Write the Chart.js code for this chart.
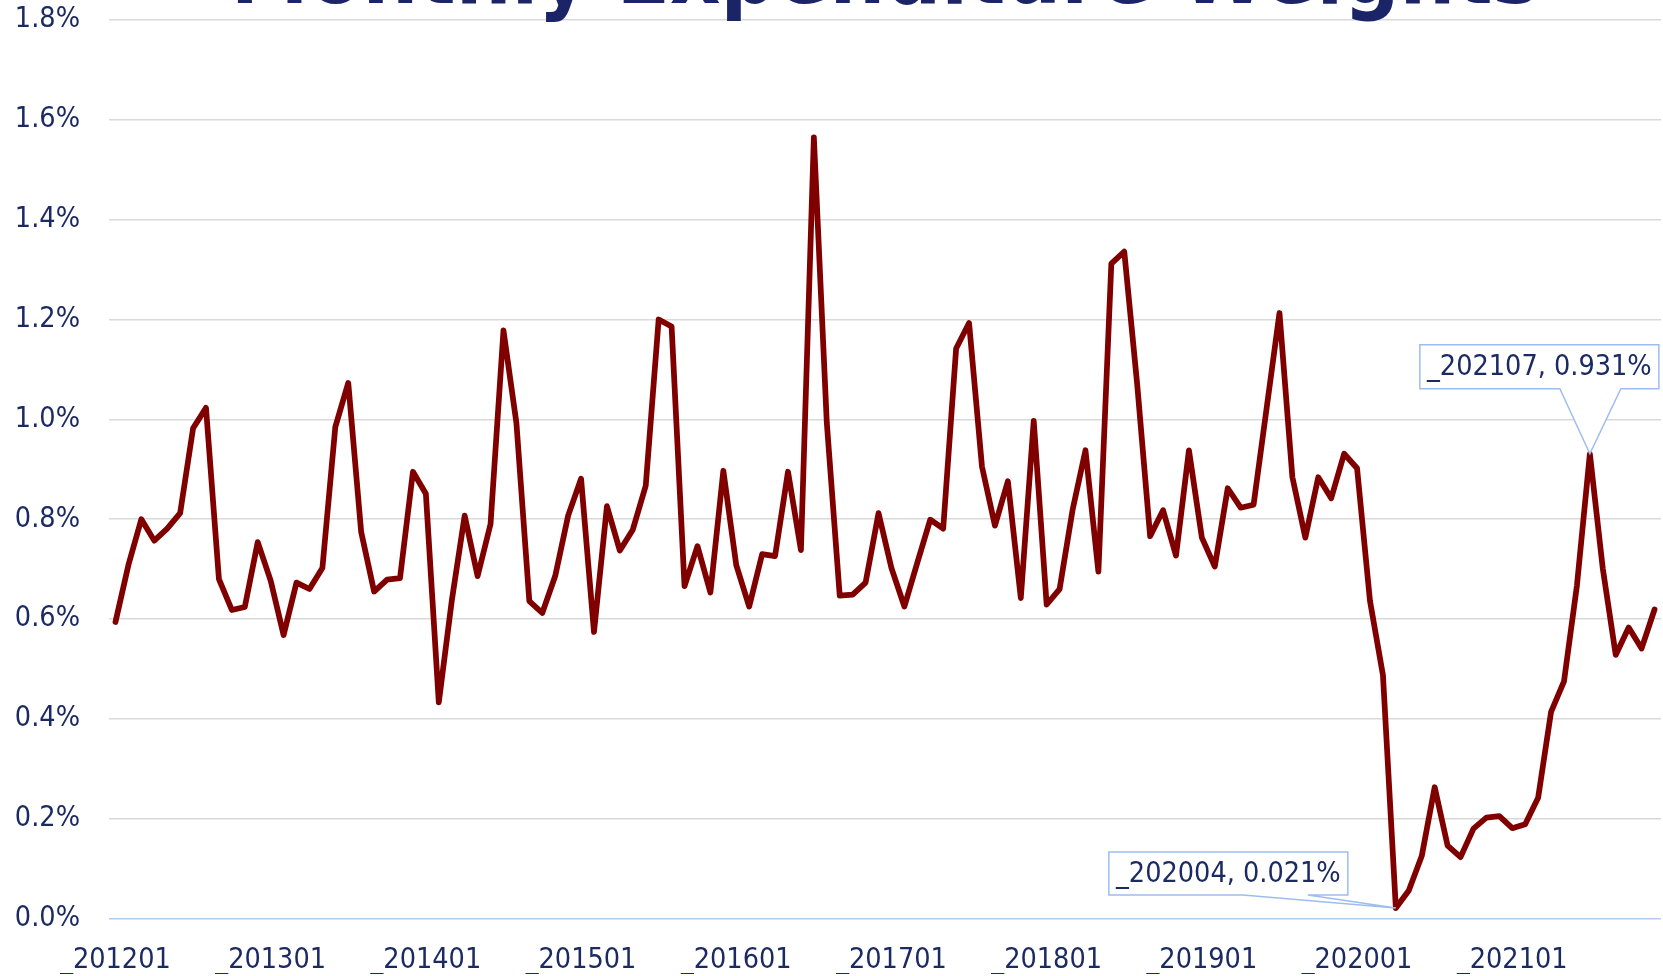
<!DOCTYPE html>
<html>
<head>
<meta charset="utf-8">
<script src="https://cdn.jsdelivr.net/npm/chart.js@4/dist/chart.umd.min.js"></script>
<style>
  html, body { margin: 0; padding: 0; background: #ffffff; }
  #wrap { position: relative; width: 1663px; height: 976px; overflow: hidden; background: #ffffff; }
  #c { position: absolute; left: 0; top: -100px; }
</style>
</head>
<body>
<div id="wrap"><canvas id="c" width="1663" height="1076"></canvas></div>
<script>
// ---- data ----
const years = [2012, 2013, 2014, 2015, 2016, 2017, 2018, 2019, 2020, 2021];
const months = ['01','02','03','04','05','06','07','08','09','10','11','12'];
const categories = [];
years.forEach(y => months.forEach(m => categories.push('_' + y + m)));

const w2012 = [0.594, 0.708, 0.800, 0.757, 0.781, 0.812, 0.982, 1.023, 0.680, 0.618, 0.624, 0.754];
const w2013 = [0.677, 0.568, 0.673, 0.660, 0.702, 0.985, 1.073, 0.774, 0.655, 0.679, 0.682, 0.895];
const w2014 = [0.851, 0.433, 0.636, 0.807, 0.686, 0.790, 1.178, 0.993, 0.636, 0.612, 0.686, 0.807];
const w2015 = [0.881, 0.574, 0.826, 0.737, 0.779, 0.867, 1.200, 1.186, 0.666, 0.746, 0.653, 0.897];
const w2016 = [0.708, 0.625, 0.730, 0.726, 0.895, 0.738, 1.565, 0.993, 0.647, 0.649, 0.673, 0.812];
const w2017 = [0.702, 0.625, 0.713, 0.799, 0.781, 1.142, 1.193, 0.905, 0.787, 0.876, 0.642, 0.997];
const w2018 = [0.629, 0.660, 0.818, 0.938, 0.695, 1.312, 1.336, 1.070, 0.766, 0.818, 0.727, 0.938];
const w2019 = [0.763, 0.705, 0.862, 0.823, 0.829, 1.021, 1.213, 0.884, 0.763, 0.884, 0.842, 0.931];
const w2020 = [0.902, 0.636, 0.488, 0.021, 0.056, 0.125, 0.263, 0.146, 0.123, 0.180, 0.202, 0.205];
const w2021 = [0.181, 0.189, 0.242, 0.414, 0.475, 0.667, 0.931, 0.701, 0.528, 0.583, 0.541, 0.619];
const weights = [].concat(w2012, w2013, w2014, w2015, w2016, w2017, w2018, w2019, w2020, w2021);

const yTicks = [0.0, 0.2, 0.4, 0.6, 0.8, 1.0, 1.2, 1.4, 1.6, 1.8];
const calloutLabels = ['_202004', '_202107'];
const titleText = 'Monthly Expenditure Weights';

// ---- style ----
const NAVY = '#1b2a63';
const FONT = '"DejaVu Sans Condensed", "Liberation Sans", Arial, sans-serif';
const TICK_SIZE = 28.5;

// callout boxes: offsets relative to the data point (style only)
const calloutStyle = {
  '_202004': { left: -287, right: -48, top: -56, bottom: -13, w1: -153, w2: -88 },
  '_202107': { left: -170, right: 69, top: -109, bottom: -65, w1: -30, w2: 31 }
};

const calloutPlugin = {
  id: 'callouts',
  afterDatasetsDraw(chart) {
    const ctx = chart.ctx;
    const xs = chart.scales.x, ys = chart.scales.y;
    calloutLabels.forEach(lab => {
      const i = categories.indexOf(lab);
      const v = weights[i];
      const px = xs.getPixelForValue(i);
      const py = ys.getPixelForValue(v);
      const s = calloutStyle[lab];
      const L = px + s.left, R = px + s.right, T = py + s.top, B = py + s.bottom;
      ctx.save();
      ctx.beginPath();
      ctx.moveTo(L, T);
      ctx.lineTo(R, T);
      ctx.lineTo(R, B);
      ctx.lineTo(px + s.w2, B);
      ctx.lineTo(px, py);
      ctx.lineTo(px + s.w1, B);
      ctx.lineTo(L, B);
      ctx.closePath();
      ctx.fillStyle = '#ffffff';
      ctx.fill();
      ctx.lineWidth = 1.5;
      ctx.strokeStyle = '#9dbdf0';
      ctx.stroke();
      ctx.fillStyle = NAVY;
      ctx.font = TICK_SIZE + 'px ' + FONT;
      ctx.textAlign = 'center';
      ctx.textBaseline = 'middle';
      ctx.fillText(lab + ', ' + v.toFixed(3) + '%', (L + R) / 2, (T + B) / 2 + 1);
      ctx.restore();
    });
  }
};

new Chart(document.getElementById('c'), {
  type: 'line',
  data: {
    labels: categories,
    datasets: [{
      data: weights,
      borderColor: '#800000',
      borderWidth: 5.75,
      pointRadius: 0,
      tension: 0,
      fill: false,
      borderJoinStyle: 'round',
      borderCapStyle: 'round'
    }]
  },
  options: {
    responsive: false,
    animation: false,
    devicePixelRatio: 1,
    layout: { padding: { left: 0, right: 2, top: 0, bottom: 2 } },
    plugins: {
      legend: { display: false },
      tooltip: { enabled: false },
      title: {
        display: true,
        fullSize: false,
        text: titleText,
        color: '#1c2468',
        font: { family: FONT, size: 87, weight: 'bold', lineHeight: 0.6 },
        padding: { top: 54, bottom: 13.8 }
      }
    },
    scales: {
      x: {
        type: 'category',
        offset: true,
        grid: { display: false, drawTicks: false },
        border: { display: false },
        ticks: {
          autoSkip: false,
          maxRotation: 0,
          minRotation: 0,
          padding: 0,
          color: NAVY,
          font: { family: FONT, size: TICK_SIZE, lineHeight: 2.93 },
          callback: function (val, idx) { return idx % 12 === 0 ? categories[idx] : ''; }
        },
        afterFit(scale) { scale.height = 55.5; }
      },
      y: {
        min: yTicks[0],
        max: yTicks[yTicks.length - 1],
        afterBuildTicks(scale) { scale.ticks = yTicks.map(v => ({ value: v })); },
        grid: {
          drawTicks: false,
          lineWidth: 1.5,
          color: ctx => (ctx.tick && ctx.tick.value === 0) ? '#b4ccf0' : '#d9d9d9'
        },
        border: { display: false },
        ticks: {
          padding: 29,
          color: NAVY,
          font: { family: FONT, size: TICK_SIZE },
          callback: v => v.toFixed(1) + '%'
        },
        afterFit(scale) { scale.width = 109; }
      }
    }
  },
  plugins: [calloutPlugin]
});
</script>
</body>
</html>
